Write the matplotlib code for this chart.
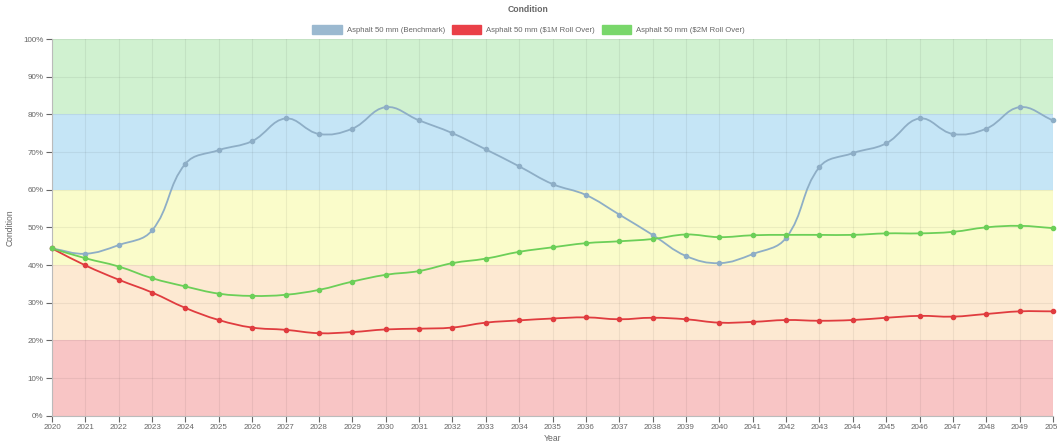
import numpy as np
import matplotlib
matplotlib.use("Agg")
import matplotlib.pyplot as plt
from matplotlib.path import Path
from matplotlib.patches import PathPatch, Patch

plt.rcParams['font.family'] = ['Liberation Sans', 'DejaVu Sans']

years = list(range(2020, 2051))

benchmark = [44.4, 43.0, 45.3, 49.2, 66.9, 70.5, 72.9, 78.9, 74.8, 76.2,
             81.9, 78.4, 75.0, 70.7, 66.2, 61.5, 58.6, 53.4, 48.0, 42.4,
             40.5, 42.9, 47.2, 66.0, 69.7, 72.3, 78.9, 74.8, 76.2, 81.9, 78.4]
rollover_1m = [44.4, 39.9, 36.1, 32.7, 28.6, 25.4, 23.4, 22.8, 21.9, 22.2,
               22.9, 23.1, 23.4, 24.7, 25.3, 25.8, 26.1, 25.6, 26.0, 25.6,
               24.7, 24.9, 25.4, 25.2, 25.4, 26.0, 26.5, 26.3, 27.0, 27.7, 27.7]
rollover_2m = [44.4, 41.8, 39.6, 36.5, 34.3, 32.4, 31.8, 32.1, 33.4, 35.6,
               37.4, 38.4, 40.5, 41.7, 43.5, 44.7, 45.8, 46.3, 46.9, 48.1,
               47.4, 47.9, 48.0, 48.0, 48.0, 48.4, 48.4, 48.8, 50.0, 50.4, 49.8]

series_labels = ["Asphalt 50 mm (Benchmark)", "Asphalt 50 mm ($1M Roll Over)",
                 "Asphalt 50 mm ($2M Roll Over)"]
line_colors = ["#8eaec6", "#e03c3f", "#6ccf58"]
legend_colors = ["#9bb9d0", "#ea4048", "#79d76b"]

band_edges = [0, 20, 40, 60, 80, 100]
band_colors = ["#f8c5c5", "#fde9d2", "#fafcca", "#c5e5f6", "#d0f1d0"]

W, H = 1057, 443
fig = plt.figure(figsize=(W / 100, H / 100), dpi=100)
ax = fig.add_axes([52 / W, (H - 415.7) / H, (1053 - 52) / W, (415.7 - 39) / H])
ax.set_xlim(years[0], years[-1])
ax.set_ylim(0, 100)

for lo, hi, c in zip(band_edges[:-1], band_edges[1:], band_colors):
    ax.axhspan(lo, hi, color=c, lw=0, zorder=0)

ax.set_xticks(years)
ax.set_xticklabels([str(y) for y in years])
ax.set_yticks(range(0, 101, 10))
ax.set_yticklabels([f"{v}%" for v in range(0, 101, 10)])
ax.grid(True, color="#000000", alpha=0.06, lw=0.8, zorder=1)
ax.tick_params(axis='both', labelsize=5.8, colors="#666666", length=4,
               width=0.8, pad=2)
for t in ax.get_xticklines() + ax.get_yticklines():
    t.set_color("#dddddd")
for side in ("top", "right"):
    ax.spines[side].set_visible(False)
for side in ("left", "bottom"):
    ax.spines[side].set_color("#bbbbbb")
    ax.spines[side].set_linewidth(0.8)


def spline_path(xs, ys, tension=0.4):
    """Bezier path through the points, with Chart.js style control points."""
    pts = ax.transData.transform(np.column_stack([xs, ys]))
    n = len(pts)
    cps = []
    for i in range(n):
        prev = pts[max(i - 1, 0)]
        cur = pts[i]
        nxt = pts[min(i + 1, n - 1)]
        d01 = np.hypot(*(cur - prev))
        d12 = np.hypot(*(nxt - cur))
        tot = d01 + d12
        s01 = d01 / tot if tot else 0
        s12 = d12 / tot if tot else 0
        fa = tension * s01
        fb = tension * s12
        cps.append((cur - fa * (nxt - prev), cur + fb * (nxt - prev)))
    verts = [pts[0]]
    codes = [Path.MOVETO]
    for i in range(n - 1):
        verts += [cps[i][1], cps[i + 1][0], pts[i + 1]]
        codes += [Path.CURVE4] * 3
    inv = ax.transData.inverted()
    return Path(inv.transform(np.array(verts)), codes)


for vals, c in zip([benchmark, rollover_1m, rollover_2m], line_colors):
    path = spline_path(np.array(years, float), np.array(vals, float))
    ax.add_patch(PathPatch(path, fill=False, edgecolor=c, lw=1.3, zorder=3))
    ax.plot(years, vals, ls="none", marker="o", ms=3.0, color=c,
            markeredgecolor=c, zorder=4, clip_on=False)

ax.set_xlabel("Year", fontsize=6.2, color="#666666", labelpad=2)
ax.set_ylabel("Condition", fontsize=6.2, color="#666666", labelpad=6)

fig.text(0.5, 1 - 10 / H, "Condition", ha="center", va="center",
         fontsize=6.2, color="#666666", fontweight="bold")

handles = [Patch(facecolor=fc, edgecolor=fc) for fc in legend_colors]
fig.legend(handles, series_labels, loc="center", ncol=3,
           bbox_to_anchor=(0.5, 1 - 29.5 / H), frameon=False, fontsize=5.6,
           handlelength=3.8, handleheight=1.4, handletextpad=0.6,
           columnspacing=0.9, labelcolor="#666666")

fig.savefig("out.png", dpi=100)
